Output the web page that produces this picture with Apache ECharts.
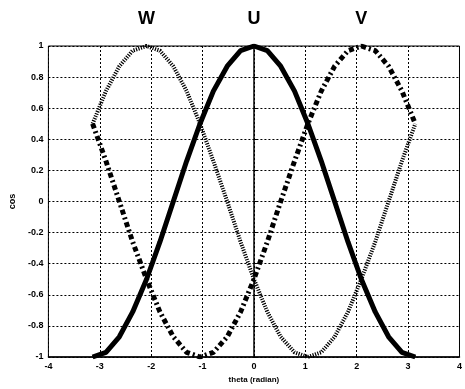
<!DOCTYPE html>
<html>
<head>
<meta charset="utf-8">
<script src="https://cdn.jsdelivr.net/npm/echarts@6/dist/echarts.min.js"></script>
<style>
  html, body { margin: 0; padding: 0; background: #fff; }
  #chart { width: 465px; height: 389px; }
</style>
</head>
<body>
<div id="chart"></div>
<script>
// Sample angles (radian), 15 degree steps from -pi to pi
const theta = [-3.14, -2.88, -2.62, -2.36, -2.09, -1.83, -1.57, -1.31, -1.05, -0.79, -0.52, -0.26,
  0, 0.26, 0.52, 0.79, 1.05, 1.31, 1.57, 1.83, 2.09, 2.36, 2.62, 2.88, 3.14];

// Phase values
const phaseU = [-1, -0.97, -0.87, -0.71, -0.5, -0.26, 0, 0.26, 0.5, 0.71, 0.87, 0.97,
  1, 0.97, 0.87, 0.71, 0.5, 0.26, 0, -0.26, -0.5, -0.71, -0.87, -0.97, -1];
const phaseV = [0.5, 0.26, 0, -0.26, -0.5, -0.71, -0.87, -0.97, -1, -0.97, -0.87, -0.71,
  -0.5, -0.26, 0, 0.26, 0.5, 0.71, 0.87, 0.97, 1, 0.97, 0.87, 0.71, 0.5];
const phaseW = [0.5, 0.71, 0.87, 0.97, 1, 0.97, 0.87, 0.71, 0.5, 0.26, 0, -0.26,
  -0.5, -0.71, -0.87, -0.97, -1, -0.97, -0.87, -0.71, -0.5, -0.26, 0, 0.26, 0.5];

// Phase name labels above the peaks
const peakNames = ['W', 'U', 'V'];
const peakTheta = [-2.09, 0, 2.09];

const xTicks = [-4, -3, -2, -1, 0, 1, 2, 3, 4];
const yTicks = [-1, -0.8, -0.6, -0.4, -0.2, 0, 0.2, 0.4, 0.6, 0.8, 1];

const pair = (ys) => theta.map((t, i) => [t, ys[i]]);
const font = 'Liberation Sans, Arial, sans-serif';

const chart = echarts.init(document.getElementById('chart'), null, { renderer: 'canvas' });

const gridLine = { show: true, lineStyle: { color: '#000', width: 1, type: [2, 2] } };
const axisLabel = { color: '#000', fontFamily: font, fontWeight: 'bold', fontSize: 9 };

chart.setOption({
  animation: false,
  backgroundColor: '#fff',
  grid: { left: 46, right: 2, top: 46, bottom: 31, show: true, borderColor: '#000', borderWidth: 1 },
  xAxis: {
    type: 'value', min: xTicks[0], max: xTicks[xTicks.length - 1], interval: 1,
    name: 'theta (radian)', nameLocation: 'middle', nameGap: 19,
    nameTextStyle: { color: '#000', fontFamily: font, fontWeight: 'bold', fontSize: 8 },
    axisLine: { show: true, onZero: false, lineStyle: { color: '#000', width: 1.5 } },
    axisTick: { show: true, inside: true, length: 3, lineStyle: { color: '#000' } },
    axisLabel: Object.assign({ margin: 5 }, axisLabel),
    splitLine: gridLine
  },
  yAxis: {
    type: 'value', min: yTicks[0], max: yTicks[yTicks.length - 1], interval: 0.2,
    name: 'cos', nameLocation: 'middle', nameGap: 30, nameRotate: 90,
    nameTextStyle: { color: '#000', fontFamily: font, fontWeight: 'bold', fontSize: 9 },
    axisLine: { show: true, lineStyle: { color: '#000', width: 1.5 } },
    axisTick: { show: true, inside: true, length: 3, lineStyle: { color: '#000' } },
    axisLabel: Object.assign({
      margin: 5,
      formatter: (v) => {
        const r = Math.round(v * 10) / 10;
        return r === 0 ? '0' : String(r);
      }
    }, axisLabel),
    splitLine: gridLine
  },
  series: [
    {
      name: 'W', type: 'line', data: pair(phaseW), symbol: 'none',
      lineStyle: { color: '#000', width: 4, type: [1.2, 1.3] }, z: 3
    },
    {
      name: 'V', type: 'line', data: pair(phaseV), symbol: 'none',
      lineStyle: { color: '#000', width: 5, type: [5, 3, 2, 3], cap: 'butt' }, z: 4
    },
    {
      name: 'U', type: 'line', data: pair(phaseU), symbol: 'none',
      lineStyle: { color: '#000', width: 5, type: 'solid' }, z: 5
    }
  ]
});

// Place the phase names over their peaks, using the axis scale
const plotTop = chart.convertToPixel({ gridIndex: 0 }, [0, 1])[1];
chart.setOption({
  graphic: peakNames.map((name, i) => ({
    type: 'text',
    x: chart.convertToPixel({ gridIndex: 0 }, [peakTheta[i], 1])[0],
    y: plotTop - 27,
    style: {
      text: name, fill: '#000', font: 'bold 18px ' + font,
      textAlign: 'center', textVerticalAlign: 'middle'
    }
  }))
});
</script>
</body>
</html>
